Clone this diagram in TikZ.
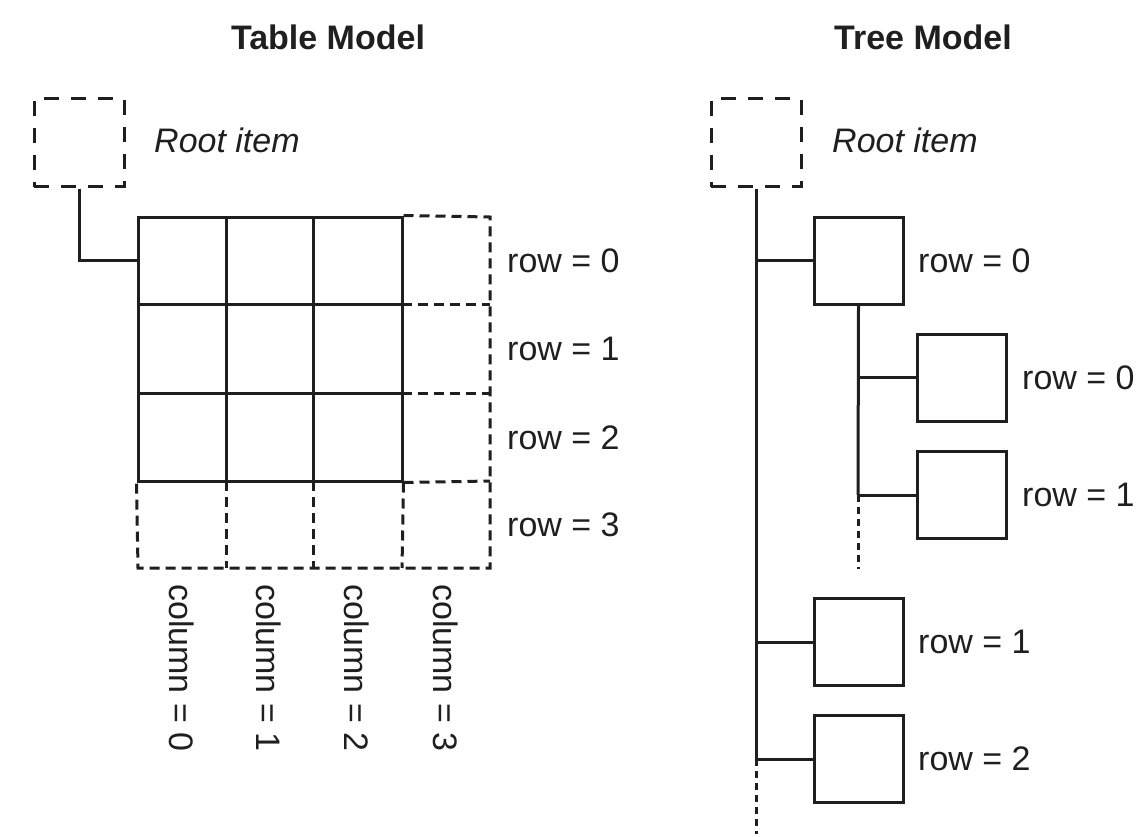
\documentclass[tikz,border=0pt]{standalone}
\usepackage{fontspec}
\setmainfont{Liberation Sans}
\begin{document}
\begin{tikzpicture}[x=1pt,y=-1pt,
  ln/.style={line width=3pt, draw=black!88},
  rootbox/.style={ln, dash pattern=on 15pt off 12pt, minimum width=90pt, minimum height=88pt, inner sep=0pt},
  dgrid/.style={ln, dash pattern=on 10pt off 6pt},
  dtree/.style={ln, dash pattern=on 7pt off 5pt},
  item/.style={ln, draw, minimum width=89pt, minimum height=87pt, inner sep=0pt},
  lbl/.style={font=\fontsize{34}{40}\selectfont, text=black!88, inner sep=0pt},
  ttl/.style={font=\fontsize{34}{40}\selectfont\bfseries, text=black!88, inner sep=0pt}]
\useasboundingbox (0,0) rectangle (1142,837);
\fill[white] (0,0) rectangle (1142,837);

% ---------- Table Model ----------
\node[ttl, anchor=base] (ttab) at (328,50) {Table Model};
\node[rootbox, draw] (troot) at (79,143) {};
\node[lbl, anchor=base west, font=\fontsize{34}{40}\selectfont\itshape] (trootl) at (154,153) {Root item};

% grid
\node[item, minimum width=264pt, minimum height=264pt] (grid) at (270,349) {};
\coordinate (c1t) at (226,217); \coordinate (c1b) at (226,481);
\coordinate (c2t) at (313,217); \coordinate (c2b) at (313,481);
\coordinate (r1l) at (138,304); \coordinate (r1r) at (402,304);
\coordinate (r2l) at (138,393); \coordinate (r2r) at (402,393);
\draw[ln] (c1t) -- (c1b) (c2t) -- (c2b) (r1l) -- (r1r) (r2l) -- (r2r);

% dashed extra column and row
\coordinate (dr0) at (490,217);
\coordinate (dr4) at (490,568);
\coordinate (db0) at (138,568);
\draw[dgrid] (grid.north east) -- (dr0) -- (dr4) -- (db0) -- (grid.south west);
\draw[dgrid] (r1r) -- (490,304);
\draw[dgrid] (r2r) -- (490,393);
\draw[dgrid] (grid.south east) -- (490,481);
\draw[dgrid] (c1b) -- (226,568);
\draw[dgrid] (c2b) -- (313,568);
\draw[dgrid] (grid.south east) -- (402,568);

% connector root -> grid
\draw[ln] (troot.south) -- (79,260) -- (grid.west |- 0,260);

% row labels
\node[lbl, anchor=west] (tr0) at (507,261) {row = 0};
\node[lbl, anchor=west] (tr1) at (507,349) {row = 1};
\node[lbl, anchor=west] (tr2) at (507,438) {row = 2};
\node[lbl, anchor=west] (tr3) at (507,525) {row = 3};

% column labels
\node[lbl, rotate=-90, anchor=west] (tc0) at (182,584) {column = 0};
\node[lbl, rotate=-90, anchor=west] (tc1) at (269,584) {column = 1};
\node[lbl, rotate=-90, anchor=west] (tc2) at (357,584) {column = 2};
\node[lbl, rotate=-90, anchor=west] (tc3) at (446,584) {column = 3};

% ---------- Tree Model ----------
\node[ttl, anchor=base] (ttree) at (923,50) {Tree Model};
\node[rootbox, draw] (rroot) at (756,143) {};
\node[lbl, anchor=base west, font=\fontsize{34}{40}\selectfont\itshape] (rrootl) at (832,153) {Root item};

\node[item] (a0) at (858.5,260.5) {};
\node[item] (b0) at (961.5,377.5) {};
\node[item] (b1) at (961.5,495) {};
\node[item] (a1) at (858.5,642) {};
\node[item] (a2) at (858.5,759) {};

\coordinate (mainend) at (756,759);
\coordinate (maindot) at (756,834);
\coordinate (subend) at (858,495);
\coordinate (subdot) at (858,569);

\draw[ln] (rroot.south) -- (mainend);
\draw[dtree] (mainend) -- (maindot);
\draw[ln] (a0.west) -- (rroot.south |- a0.west);
\draw[ln] (a1.west) -- (rroot.south |- a1.west);
\draw[ln] (a2.west) -- (rroot.south |- a2.west);

\draw[ln] (a0.south) -- (subend);
\draw[dtree] (subend) -- (subdot);
\draw[ln] (b0.west) -- (a0.south |- b0.west);
\draw[ln] (b1.west) -- (a0.south |- b1.west);

\node[lbl, anchor=west] (la0) at (918,261) {row = 0};
\node[lbl, anchor=west] (lb0) at (1022,378) {row = 0};
\node[lbl, anchor=west] (lb1) at (1022,495) {row = 1};
\node[lbl, anchor=west] (la1) at (918,642) {row = 1};
\node[lbl, anchor=west] (la2) at (918,759) {row = 2};
\end{tikzpicture}
\end{document}
